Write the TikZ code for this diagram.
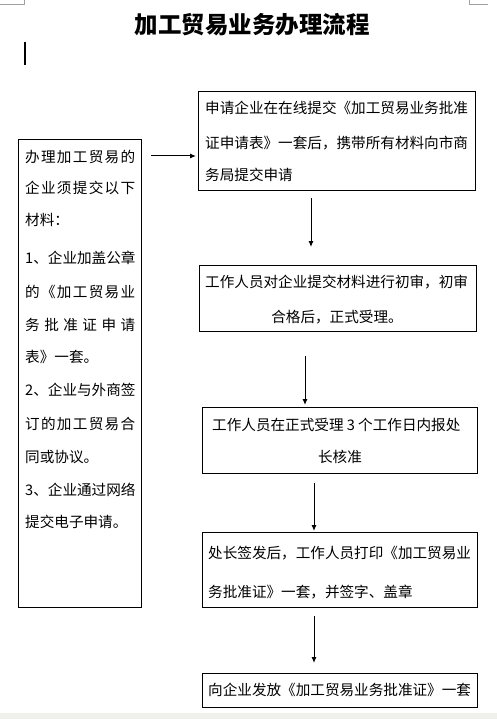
\documentclass[tikz,border=0pt]{standalone}
\usepackage{fontspec}
\setmainfont{Noto Sans CJK SC}
\usetikzlibrary{arrows.meta}
\def\jspA#1{#1\futurelet\jspnext\jspB}
\def\jspB{\ifx\jspnext\relax\expandafter\jspEnd\else\hfill\expandafter\jspA\fi}
\def\jspEnd#1{}
\newcommand\jline[1]{\makebox[110pt][s]{\jspA#1\relax}}
\definecolor{markgray}{HTML}{A0A0A0}
\definecolor{bandgray}{HTML}{F0F0EC}
\begin{document}
\begin{tikzpicture}[x=1pt,y=-1pt,
  box/.style={draw, line width=1pt, inner sep=0pt, anchor=north west},
  txt/.style={anchor=west, inner sep=0pt, font=\fontsize{14.6pt}{14.6pt}\selectfont},
  ctxt/.style={anchor=center, inner sep=0pt, font=\fontsize{14.6pt}{14.6pt}\selectfont},
  arr/.style={line width=1pt, -{Latex[length=6pt,width=5pt]}},
  cornermark/.style={draw=markgray, line width=1pt}
]
\useasboundingbox (0,0) rectangle (497,719);
% page artifacts
\fill[bandgray] (0,713) rectangle (497,719);
\draw[cornermark] (0,5) -- (24,5) -- (24,0);
\draw[cornermark] (469,0) -- (469,5) -- (488,5);
\draw[line width=1.5pt] (25,42) -- (25,65);

% title
\node[inner sep=0pt, font=\fontsize{23.5pt}{23.5pt}\selectfont\bfseries] (title) at (252,25) {加工贸易业务办理流程};

% boxes
\node[box, minimum width=123pt, minimum height=468pt] (L) at (18,139) {};
\node[box, minimum width=277pt, minimum height=99pt] (B1) at (198,91) {};
\node[box, minimum width=277pt, minimum height=66pt] (B2) at (199,265) {};
\node[box, minimum width=275pt, minimum height=66pt] (B3) at (202,407) {};
\node[box, minimum width=275pt, minimum height=75pt] (B4) at (202,532) {};
\node[box, minimum width=275pt, minimum height=34pt] (B5) at (202,673) {};

% left box text
\node[txt] (l1) at (25,157) {\jline{办理加工贸易的}};
\node[txt] (l2) at (25,188) {\jline{企业须提交以下}};
\node[txt] (l3) at (25,220) {材料：};
\node[txt] (l4) at (25,258) {\jline{1、企业加盖公章}};
\node[txt] (l5) at (25,292) {\jline{的《加工贸易业}};
\node[txt] (l6) at (25,325) {\jline{务批准证申请}};
\node[txt] (l7) at (25,357) {表》一套。};
\node[txt] (l8) at (25,390) {\jline{2、企业与外商签}};
\node[txt] (l9) at (25,424) {\jline{订的加工贸易合}};
\node[txt] (l10) at (25,457) {同或协议。};
\node[txt] (l11) at (25,490) {\jline{3、企业通过网络}};
\node[txt] (l12) at (25,522) {提交电子申请。};

% right box texts
\node[txt] (r11) at (205,108) {申请企业在在线提交《加工贸易业务批准};
\node[txt] (r12) at (205,143) {证申请表》一套后，携带所有材料向市商};
\node[txt] (r13) at (205,175) {务局提交申请};

\node[txt] (r21) at (205,282) {工作人员对企业提交材料进行初审，初审};
\node[ctxt] (r22) at (337,317) {合格后，正式受理。};

\node[txt] (r31) at (212,425) {工作人员在正式受理 3 个工作日内报处};
\node[ctxt] (r32) at (340,457) {长核准};

\node[txt] (r41) at (208,553) {处长签发后，工作人员打印《加工贸易业};
\node[txt] (r42) at (208,592) {务批准证》一套，并签字、盖章};

\node[txt] (r51) at (208,690) {向企业发放《加工贸易业务批准证》一套};

% connectors
\coordinate (y0) at (0,156);
\draw[arr, shorten <=9pt, shorten >=2pt] (L.east |- y0) -- (B1.west |- y0);
\coordinate (x1) at (311,0);
\draw[arr, shorten <=7pt, shorten >=18pt] (x1 |- B1.south) -- (x1 |- B2.north);
\coordinate (x2) at (305,0);
\draw[arr, shorten <=24pt, shorten >=2pt] (x2 |- B2.south) -- (x2 |- B3.north);
\coordinate (x3) at (314,0);
\draw[arr, shorten <=9pt, shorten >=1pt] (x3 |- B3.south) -- (x3 |- B4.north);
\coordinate (x4) at (314,0);
\draw[arr, shorten <=8pt, shorten >=10pt] (x4 |- B4.south) -- (x4 |- B5.north);
\end{tikzpicture}
\end{document}
